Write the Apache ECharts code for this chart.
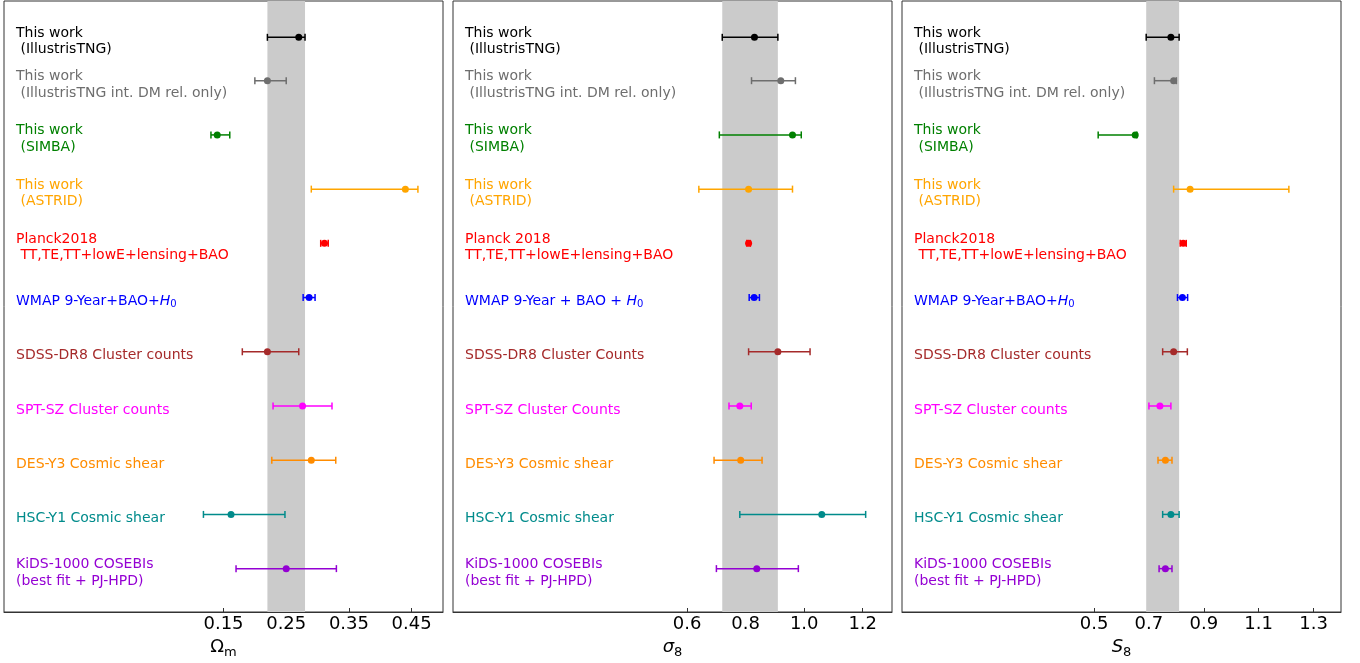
<!DOCTYPE html>
<html>
<head>
<meta charset="utf-8">
<script src="https://cdn.jsdelivr.net/npm/echarts@6/dist/echarts.min.js"></script>
<style>
html,body{margin:0;padding:0;background:#fff;}
#chart{width:1360px;height:663px;}
</style>
</head>
<body>
<div id="chart"></div>
<script>
// Row positions (top row set slightly closer to the second row, as in the reference)
const rowY = [9.8, 9, 8, 7, 6, 5, 4, 3, 2, 1, 0];
const rowColors = ['#000000', '#6e6e6e', '#008000', '#ffa500', '#ff0000', '#0000ff',
                   '#a52a2a', '#ff00ff', '#ff8c00', '#008b8b', '#9400d3'];

const labelsOmega = [
  'This work\n (IllustrisTNG)',
  'This work\n (IllustrisTNG int. DM rel. only)',
  'This work\n (SIMBA)',
  'This work\n (ASTRID)',
  'Planck2018\n TT,TE,TT+lowE+lensing+BAO',
  'WMAP 9-Year+BAO+{i|H}{s|0}',
  'SDSS-DR8 Cluster counts',
  'SPT-SZ Cluster counts',
  'DES-Y3 Cosmic shear',
  'HSC-Y1 Cosmic shear',
  'KiDS-1000 COSEBIs\n(best fit + PJ-HPD)'
];
const labelsSigma = [
  'This work\n (IllustrisTNG)',
  'This work\n (IllustrisTNG int. DM rel. only)',
  'This work\n (SIMBA)',
  'This work\n (ASTRID)',
  'Planck 2018\nTT,TE,TT+lowE+lensing+BAO',
  'WMAP 9-Year + BAO + {i|H}{s|0}',
  'SDSS-DR8 Cluster Counts',
  'SPT-SZ Cluster Counts',
  'DES-Y3 Cosmic shear',
  'HSC-Y1 Cosmic shear',
  'KiDS-1000 COSEBIs\n(best fit + PJ-HPD)'
];
const labelsS8 = labelsOmega;

const omegaVal = [0.27, 0.22, 0.14, 0.44, 0.311, 0.2865, 0.22, 0.276, 0.290, 0.162, 0.25];
const omegaLo  = [0.22, 0.20, 0.13, 0.29, 0.305, 0.277, 0.18, 0.229, 0.227, 0.118, 0.17];
const omegaHi  = [0.28, 0.25, 0.16, 0.46, 0.317, 0.296, 0.27, 0.323, 0.329, 0.248, 0.33];

const sigmaVal = [0.83, 0.92, 0.96, 0.81, 0.810, 0.829, 0.91, 0.78, 0.783, 1.06, 0.838];
const sigmaLo  = [0.72, 0.82, 0.71, 0.64, 0.804, 0.812, 0.81, 0.743, 0.692, 0.78, 0.70];
const sigmaHi  = [0.91, 0.97, 0.99, 0.96, 0.816, 0.847, 1.02, 0.819, 0.856, 1.21, 0.98];

const s8Val = [0.78, 0.79, 0.65, 0.85, 0.825, 0.822, 0.79, 0.74, 0.76, 0.78, 0.76];
const s8Lo  = [0.69, 0.72, 0.515, 0.79, 0.814, 0.804, 0.75, 0.70, 0.733, 0.75, 0.737];
const s8Hi  = [0.81, 0.80, 0.656, 1.21, 0.836, 0.841, 0.84, 0.78, 0.784, 0.81, 0.784];

const omegaBand = [0.22, 0.28];
const sigmaBand = [0.72, 0.91];
const s8Band = [0.69, 0.81];

const omegaTicks = [0.15, 0.25, 0.35, 0.45];
const sigmaTicks = [0.6, 0.8, 1.0, 1.2];
const s8Ticks = [0.5, 0.7, 0.9, 1.1, 1.3];

const FONT = 'DejaVu Sans';

const panels = [
  {vals: omegaVal, lo: omegaLo, hi: omegaHi, band: omegaBand, labels: labelsOmega,
   ticks: omegaTicks, dec: 2, min: -0.2, max: 0.5, left: 4,
   name: '{n|Ω}{s|m}'},
  {vals: sigmaVal, lo: sigmaLo, hi: sigmaHi, band: sigmaBand, labels: labelsSigma,
   ticks: sigmaTicks, dec: 1, min: -0.2, max: 1.3, left: 453,
   name: '{i|σ}{s|8}'},
  {vals: s8Val, lo: s8Lo, hi: s8Hi, band: s8Band, labels: labelsS8,
   ticks: s8Ticks, dec: 1, min: -0.2, max: 1.4, left: 902,
   name: '{i|S}{s|8}'}
];

const grids = [], xAxes = [], yAxes = [], series = [];

panels.forEach((p, k) => {
  grids.push({left: p.left, top: 1, width: 439, height: 611, show: true,
              containLabel: false, outerBoundsMode: 'none',
              borderColor: '#333', borderWidth: 1, backgroundColor: 'transparent'});
  xAxes.push({
    type: 'value', gridIndex: k, min: p.min, max: p.max,
    splitLine: {show: false},
    axisLine: {show: true, onZero: false, lineStyle: {color: '#333', width: 1}},
    axisTick: {show: true, inside: true, length: 4, customValues: p.ticks,
               lineStyle: {color: '#333', width: 1}},
    axisLabel: {show: true, customValues: p.ticks, margin: 3,
                fontFamily: FONT, fontSize: 18, color: '#000',
                formatter: (v) => Number(v).toFixed(p.dec)},
    name: p.name, nameLocation: 'middle', nameGap: 24, nameMoveOverlap: false,
    nameTextStyle: {
      fontFamily: FONT, color: '#000',
      rich: {
        n: {fontFamily: FONT, fontSize: 18, color: '#000'},
        i: {fontFamily: FONT, fontSize: 18, fontStyle: 'italic', color: '#000'},
        s: {fontFamily: FONT, fontSize: 13, color: '#000', padding: [10, 0, 0, 0]}
      }
    }
  });
  yAxes.push({
    type: 'value', gridIndex: k, min: -0.8, max: 10.47,
    axisLine: {show: false}, axisTick: {show: false}, axisLabel: {show: false},
    splitLine: {show: false}
  });

  // Shaded band
  series.push({
    type: 'line', xAxisIndex: k, yAxisIndex: k, data: [], z: 1, silent: true,
    markArea: {
      silent: true,
      itemStyle: {color: '#cbcbcb', opacity: 1},
      data: [[{xAxis: p.band[0]}, {xAxis: p.band[1]}]]
    }
  });

  // Error bars
  series.push({
    type: 'custom', xAxisIndex: k, yAxisIndex: k, z: 3, silent: true,
    encode: {x: [0, 1], y: 2},
    data: p.vals.map((v, i) => [p.lo[i], p.hi[i], rowY[i], i]),
    renderItem: function (params, api) {
      const a = api.coord([api.value(0), api.value(2)]);
      const b = api.coord([api.value(1), api.value(2)]);
      const col = rowColors[api.value(3)];
      const cap = 3.5;
      const style = {stroke: col, lineWidth: 1.5, fill: null};
      return {
        type: 'group',
        children: [
          {type: 'line', shape: {x1: a[0], y1: a[1], x2: b[0], y2: b[1]}, style: style},
          {type: 'line', shape: {x1: a[0], y1: a[1] - cap, x2: a[0], y2: a[1] + cap}, style: style},
          {type: 'line', shape: {x1: b[0], y1: b[1] - cap, x2: b[0], y2: b[1] + cap}, style: style}
        ]
      };
    }
  });

  // Central points
  series.push({
    type: 'scatter', xAxisIndex: k, yAxisIndex: k, z: 4, silent: true,
    symbol: 'circle', symbolSize: 7,
    itemStyle: {opacity: 1},
    data: p.vals.map((v, i) => ({value: [v, rowY[i]], itemStyle: {color: rowColors[i], opacity: 1}}))
  });

  // Row labels
  series.push({
    type: 'scatter', xAxisIndex: k, yAxisIndex: k, z: 5, silent: true,
    symbolSize: 0, itemStyle: {color: 'rgba(0,0,0,0)', opacity: 1},
    data: p.labels.map((t, i) => ({
      value: [p.min, rowY[i]],
      label: {
        show: true, position: 'right', distance: 12, offset: [0, 4],
        align: 'left', verticalAlign: 'middle',
        fontFamily: FONT, fontSize: 14, lineHeight: 16.5, color: rowColors[i], opacity: 1,
        formatter: () => t,
        rich: {
          i: {fontFamily: FONT, fontSize: 14, fontStyle: 'italic', color: rowColors[i]},
          s: {fontFamily: FONT, fontSize: 10, color: rowColors[i], padding: [6, 0, 0, 0]}
        }
      }
    }))
  });
});

const chart = echarts.init(document.getElementById('chart'), null, {renderer: 'canvas'});
chart.setOption({
  animation: false,
  backgroundColor: '#ffffff',
  grid: grids,
  xAxis: xAxes,
  yAxis: yAxes,
  series: series
});
</script>
</body>
</html>
